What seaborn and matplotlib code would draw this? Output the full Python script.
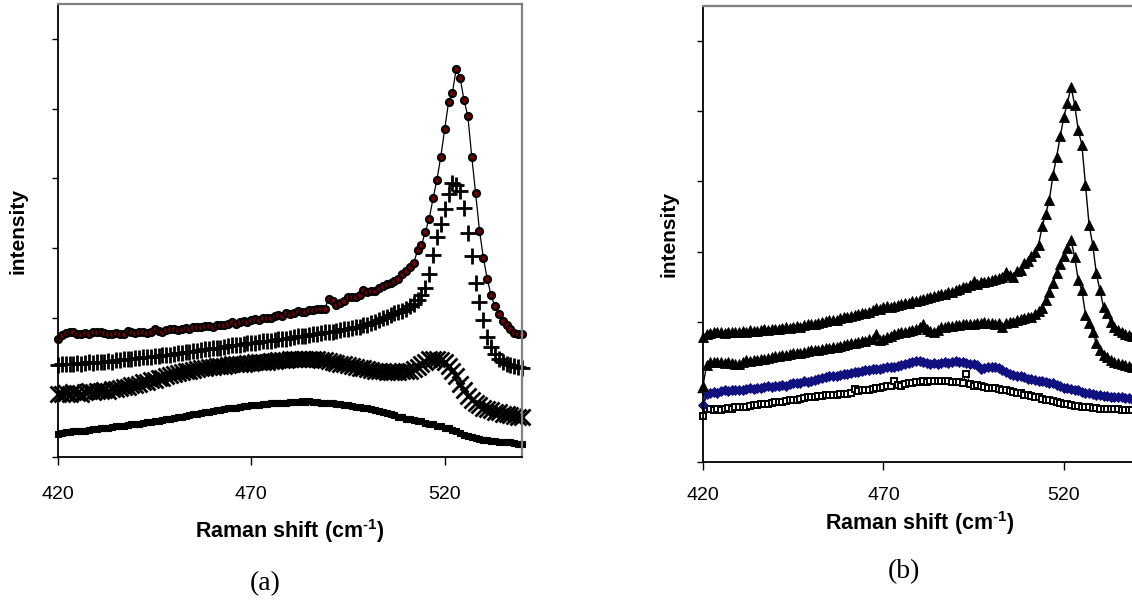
import matplotlib
matplotlib.use("Agg")
import matplotlib.pyplot as plt
import seaborn as sns
import numpy as np

# ---------------- data ----------------
shift = list(range(420, 541))          # Raman shift (cm-1), 1 cm-1 steps

# panel (a)
a_circle = [1.70,1.75,1.78,1.80,1.79,1.77,1.76,1.78,1.77,1.79,
            1.79,1.80,1.78,1.77,1.77,1.78,1.76,1.77,1.81,1.80,
            1.78,1.80,1.79,1.78,1.80,1.83,1.81,1.80,1.82,1.83,
            1.83,1.82,1.84,1.85,1.84,1.86,1.87,1.86,1.88,1.88,
            1.87,1.89,1.90,1.89,1.91,1.93,1.91,1.94,1.95,1.93,
            1.96,1.98,1.96,1.99,2.00,1.99,2.02,2.04,2.03,2.06,
            2.05,2.07,2.09,2.08,2.08,2.11,2.11,2.12,2.13,2.13,
            2.27,2.24,2.18,2.21,2.24,2.29,2.30,2.29,2.33,2.39,
            2.37,2.38,2.38,2.42,2.45,2.48,2.50,2.53,2.56,2.62,
            2.67,2.72,2.78,2.97,3.04,3.23,3.42,3.71,3.98,4.31,
            4.70,5.09,5.23,5.57,5.44,5.12,4.89,4.31,3.79,3.25,
            2.86,2.56,2.32,2.16,2.05,1.95,1.89,1.83,1.78,1.77,
            1.77]
a_plus = [1.32,1.33,1.33,1.34,1.33,1.35,1.34,1.35,1.36,1.35,
          1.36,1.37,1.37,1.38,1.37,1.39,1.39,1.40,1.41,1.41,
          1.42,1.42,1.43,1.44,1.44,1.45,1.45,1.46,1.47,1.47,
          1.48,1.49,1.49,1.50,1.51,1.52,1.52,1.53,1.55,1.55,
          1.56,1.57,1.57,1.58,1.59,1.60,1.61,1.61,1.62,1.63,
          1.64,1.64,1.65,1.66,1.67,1.67,1.68,1.69,1.70,1.70,
          1.71,1.72,1.73,1.73,1.74,1.75,1.76,1.77,1.78,1.79,
          1.79,1.80,1.81,1.82,1.83,1.84,1.85,1.86,1.87,1.89,
          1.90,1.92,1.94,1.96,1.99,2.01,2.04,2.06,2.08,2.10,
          2.13,2.16,2.20,2.25,2.33,2.42,2.62,2.90,3.16,3.35,
          3.56,3.77,3.93,3.90,3.82,3.57,3.21,2.89,2.50,2.22,
          1.96,1.72,1.58,1.48,1.41,1.37,1.34,1.32,1.30,1.29,
          1.28]
a_cross = [0.91,0.90,0.92,0.91,0.93,0.92,0.91,0.93,0.94,0.93,
           0.94,0.95,0.96,0.95,0.97,0.98,0.99,1.00,1.01,1.03,
           1.04,1.05,1.07,1.08,1.10,1.11,1.13,1.14,1.16,1.18,
           1.19,1.20,1.22,1.23,1.24,1.25,1.26,1.28,1.28,1.29,
           1.29,1.30,1.31,1.31,1.32,1.33,1.33,1.34,1.34,1.35,
           1.35,1.36,1.36,1.37,1.37,1.38,1.38,1.39,1.39,1.39,
           1.40,1.40,1.41,1.41,1.40,1.41,1.40,1.40,1.39,1.39,
           1.38,1.37,1.35,1.34,1.33,1.32,1.31,1.29,1.28,1.27,
           1.26,1.25,1.24,1.23,1.23,1.22,1.22,1.22,1.22,1.23,
           1.23,1.24,1.26,1.29,1.33,1.37,1.40,1.41,1.41,1.39,
           1.36,1.31,1.24,1.16,1.05,0.96,0.88,0.82,0.77,0.74,
           0.71,0.69,0.67,0.65,0.64,0.62,0.61,0.60,0.59,0.58,
           0.57]
a_dash = [0.33,0.35,0.36,0.36,0.37,0.37,0.38,0.38,0.39,0.40,
          0.40,0.41,0.42,0.42,0.43,0.44,0.44,0.45,0.46,0.47,
          0.47,0.48,0.49,0.50,0.50,0.51,0.52,0.53,0.54,0.55,
          0.56,0.57,0.58,0.59,0.60,0.61,0.62,0.63,0.64,0.65,
          0.66,0.67,0.68,0.69,0.70,0.71,0.71,0.72,0.73,0.73,
          0.74,0.75,0.75,0.76,0.76,0.77,0.77,0.78,0.78,0.78,
          0.79,0.79,0.79,0.80,0.79,0.80,0.79,0.79,0.78,0.78,
          0.77,0.77,0.76,0.76,0.75,0.74,0.73,0.72,0.72,0.71,
          0.70,0.69,0.67,0.66,0.65,0.63,0.61,0.60,0.58,0.57,
          0.55,0.54,0.53,0.52,0.51,0.49,0.48,0.47,0.45,0.44,
          0.42,0.41,0.39,0.37,0.34,0.32,0.30,0.28,0.27,0.26,
          0.25,0.24,0.23,0.23,0.22,0.22,0.21,0.21,0.20,0.19,
          0.18]

# panel (b)
b_tri_top = [1.78,1.83,1.84,1.85,1.86,1.85,1.84,1.86,1.85,1.86,
             1.85,1.87,1.86,1.88,1.87,1.87,1.88,1.89,1.88,1.89,
             1.90,1.89,1.91,1.92,1.91,1.93,1.94,1.93,1.95,1.96,
             1.97,1.96,1.98,1.99,2.01,2.02,2.02,2.03,2.05,2.06,
             2.06,2.08,2.09,2.11,2.12,2.12,2.14,2.17,2.20,2.18,
             2.21,2.22,2.21,2.23,2.24,2.25,2.26,2.27,2.29,2.30,
             2.31,2.32,2.34,2.35,2.36,2.38,2.39,2.40,2.42,2.43,
             2.45,2.47,2.49,2.50,2.53,2.58,2.54,2.56,2.57,2.58,
             2.60,2.61,2.62,2.64,2.71,2.66,2.64,2.72,2.74,2.83,
             2.86,2.93,3.00,3.10,3.36,3.54,3.74,4.09,4.35,4.64,
             4.92,5.12,5.35,5.09,4.73,4.52,3.95,3.38,3.10,2.69,
             2.45,2.21,2.12,2.00,1.92,1.88,1.85,1.83,1.81,1.80,
             1.80]
b_tri_low = [1.09,1.38,1.42,1.42,1.43,1.42,1.41,1.42,1.41,1.40,
             1.40,1.42,1.45,1.44,1.45,1.46,1.47,1.47,1.48,1.50,
             1.51,1.51,1.52,1.53,1.54,1.55,1.56,1.56,1.57,1.58,
             1.59,1.60,1.60,1.61,1.62,1.63,1.64,1.64,1.65,1.67,
             1.68,1.69,1.70,1.71,1.72,1.73,1.75,1.76,1.83,1.74,
             1.76,1.78,1.80,1.83,1.84,1.85,1.86,1.87,1.88,1.90,
             1.93,1.96,1.90,1.87,1.85,1.88,1.92,1.93,1.94,1.94,
             1.95,1.95,1.96,1.96,1.97,1.97,1.98,1.98,1.99,1.98,
             1.98,1.97,1.98,1.92,1.98,1.99,2.00,2.02,2.04,2.05,
             2.06,2.07,2.11,2.15,2.20,2.31,2.43,2.55,2.69,2.82,
             2.93,3.05,3.16,2.92,2.59,2.45,2.10,1.98,1.86,1.69,
             1.60,1.52,1.50,1.46,1.42,1.41,1.40,1.38,1.37,1.36,
             1.35]
b_blue = [0.81,0.97,0.99,1.00,0.99,1.01,1.02,1.01,1.02,1.03,
          1.03,1.02,1.04,1.05,1.04,1.06,1.05,1.07,1.08,1.07,
          1.08,1.09,1.10,1.09,1.11,1.12,1.12,1.13,1.15,1.14,
          1.16,1.17,1.18,1.20,1.21,1.22,1.23,1.23,1.24,1.25,
          1.26,1.27,1.28,1.28,1.30,1.31,1.31,1.32,1.33,1.33,
          1.34,1.35,1.35,1.36,1.37,1.38,1.40,1.41,1.42,1.44,
          1.44,1.42,1.41,1.40,1.41,1.40,1.41,1.42,1.41,1.43,
          1.44,1.43,1.42,1.41,1.40,1.39,1.38,1.33,1.34,1.35,
          1.36,1.35,1.34,1.31,1.28,1.25,1.24,1.23,1.22,1.21,
          1.19,1.18,1.17,1.16,1.15,1.14,1.13,1.12,1.10,1.08,
          1.06,1.05,1.04,1.03,1.02,1.00,0.99,0.98,0.97,0.96,
          0.95,0.94,0.94,0.93,0.93,0.92,0.92,0.91,0.91,0.90,
          0.90]
b_square = [0.66,0.76,0.75,0.74,0.75,0.74,0.76,0.77,0.76,0.78,
            0.78,0.79,0.78,0.80,0.81,0.81,0.82,0.83,0.82,0.84,
            0.85,0.86,0.85,0.87,0.88,0.88,0.89,0.90,0.91,0.92,
            0.93,0.93,0.94,0.94,0.95,0.95,0.96,0.96,0.97,0.97,
            0.97,0.99,1.04,1.01,1.02,1.02,1.03,1.04,1.05,1.06,
            1.07,1.08,1.09,1.16,1.10,1.09,1.11,1.12,1.13,1.14,
            1.14,1.15,1.14,1.15,1.16,1.16,1.15,1.16,1.15,1.14,
            1.14,1.14,1.13,1.26,1.11,1.09,1.10,1.08,1.07,1.06,
            1.06,1.05,1.04,1.03,1.02,1.01,1.00,0.99,0.98,0.96,
            0.95,0.94,0.93,0.92,0.90,0.89,0.88,0.87,0.85,0.84,
            0.83,0.82,0.81,0.80,0.80,0.79,0.79,0.78,0.77,0.77,
            0.76,0.76,0.75,0.75,0.75,0.75,0.74,0.74,0.74,0.74,
            0.74]

x_ticks = [420, 470, 520]
y_ticks = [0, 1, 2, 3, 4, 5, 6]
x_label = "Raman shift (cm$^{\\mathbf{\u20101}}$)"
y_label = "intensity"
panel_tags = ["(a)", "(b)"]

# ---------------- style ----------------
sns.set_style("white")
plt.rcParams["font.family"] = ["Liberation Sans", "DejaVu Sans"]
plt.rcParams["mathtext.fontset"] = "custom"
plt.rcParams["mathtext.rm"] = "Liberation Sans"
plt.rcParams["mathtext.bf"] = "Liberation Sans:bold"
plt.rcParams["text.color"] = "black"
plt.rcParams["axes.labelcolor"] = "black"
plt.rcParams["xtick.color"] = "black"
plt.rcParams["ytick.color"] = "black"

W, H = 1132, 607
fig = plt.figure(figsize=(W / 100, H / 100), dpi=100)
axA = fig.add_axes([58 / W, (H - 457) / H, 464 / W, 453 / H])
axB = fig.add_axes([703 / W, (H - 462) / H, 433 / W, 456 / H])


def draw(ax, y, **kw):
    sns.lineplot(x=shift, y=y, ax=ax, estimator=None, errorbar=None,
                 sort=False, legend=False, clip_on=False, **kw)


# panel (a)
draw(axA, a_dash, color="black", linewidth=3.6, marker="s", markersize=4.2,
     markerfacecolor="black", markeredgecolor="black", markeredgewidth=0.8)
draw(axA, a_cross, color="black", linestyle="none", marker="x", markersize=12,
     markeredgecolor="black", markeredgewidth=2.0)
draw(axA, a_plus, color="black", linestyle="none", marker="+", markersize=12,
     markeredgecolor="black", markeredgewidth=2.0)
draw(axA, a_circle, color="black", linewidth=0.9, marker="o", markersize=5.0,
     markerfacecolor="#7a0000", markeredgecolor="black", markeredgewidth=1.6)

# panel (b)
draw(axB, b_square, color="black", linewidth=0.8, marker="s", markersize=5.0,
     markerfacecolor="white", markeredgecolor="black", markeredgewidth=1.4)
draw(axB, b_blue, color="#10107f", linewidth=1.6, marker="D", markersize=4.6,
     markerfacecolor="#10107f", markeredgecolor="#10107f", markeredgewidth=0.6)
draw(axB, b_tri_low, color="black", linewidth=1.0, marker="^", markersize=6.5,
     markerfacecolor="black", markeredgecolor="black", markeredgewidth=0.6)
draw(axB, b_tri_top, color="black", linewidth=1.0, marker="^", markersize=6.5,
     markerfacecolor="black", markeredgecolor="black", markeredgewidth=0.6)

for ax, pad, lab_y, ylab_x in [(axA, 15, -0.163, -0.086), (axB, 12, -0.134, -0.078)]:
    ax.set_xlim(420, 540)
    ax.set_ylim(0, 6.5)
    ax.set_xticks(x_ticks)
    ax.set_xticklabels([str(t) for t in x_ticks])
    ax.set_yticks(y_ticks)
    ax.set_yticklabels([])
    ax.tick_params(axis="x", direction="out", length=6, width=1, color="black",
                   labelcolor="black", labelsize=14, pad=pad, bottom=True)
    ax.tick_params(axis="y", direction="out", length=4, width=1, color="black",
                   left=True)
    for s in ["top", "right"]:
        ax.spines[s].set_color("#808080")
        ax.spines[s].set_linewidth(1.6)
    for s in ["left", "bottom"]:
        ax.spines[s].set_color("black")
        ax.spines[s].set_linewidth(1.3)
    ax.set_xlabel(x_label, fontsize=15.5, fontweight="bold", color="black")
    ax.xaxis.set_label_coords(0.5, lab_y)
    ax.xaxis.label.set_va("center")
    ax.set_ylabel(y_label, fontsize=15, fontweight="bold", color="black")
    ax.yaxis.set_label_coords(ylab_x, 0.5)
    ax.yaxis.label.set_va("center")
    ax.yaxis.label.set_ha("center")
    ax.set_facecolor("white")

fig.text(265 / W, 1 - 584 / H, panel_tags[0], ha="center", va="center",
         fontsize=20, color="black", family=["Liberation Serif", "DejaVu Serif"])
fig.text(904 / W, 1 - 572 / H, panel_tags[1], ha="center", va="center",
         fontsize=20, color="black", family=["Liberation Serif", "DejaVu Serif"])

fig.savefig("out.png", dpi=100, facecolor="white")
